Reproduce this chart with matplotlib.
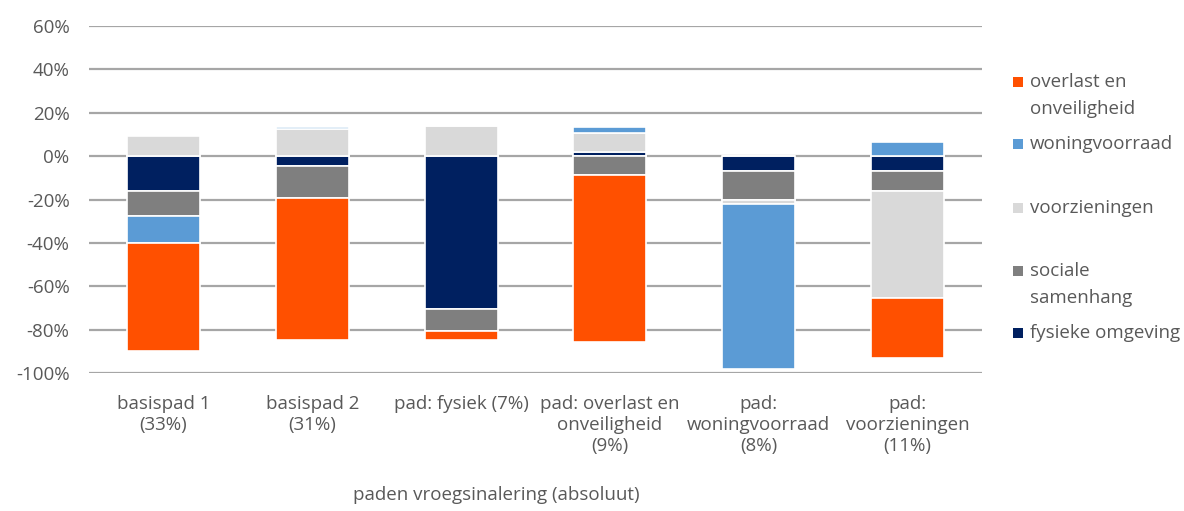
import matplotlib
matplotlib.use("Agg")
import matplotlib.pyplot as plt
import numpy as np
from matplotlib.patches import Rectangle
from matplotlib.ticker import FuncFormatter

categories = ["basispad 1\n(33%)", "basispad 2\n(31%)", "pad: fysiek (7%)",
              "pad: overlast en\nonveiligheid\n(9%)", "pad:\nwoningvoorraad\n(8%)",
              "pad:\nvoorzieningen\n(11%)"]

# values in percent (stacking order: first series at the base)
fysieke_omgeving = [-16.0, -4.5, -70.5, 1.8, -7.0, -7.0]
sociale_samenhang = [-11.5, -15.0, -10.0, -8.5, -13.0, -9.0]
voorzieningen = [9.5, 12.3, 14.0, 9.0, -2.0, -49.5]
woningvoorraad = [-12.5, 1.0, 0.0, 2.7, -76.0, 6.5]
overlast_en_onveiligheid = [-50.0, -65.5, -4.5, -77.0, 0.0, -27.5]

series = [
    ("fysieke omgeving", fysieke_omgeving, "#002060"),
    ("sociale\nsamenhang", sociale_samenhang, "#7F7F7F"),
    ("voorzieningen", voorzieningen, "#D9D9D9"),
    ("woningvoorraad", woningvoorraad, "#5B9BD5"),
    ("overlast en\nonveiligheid", overlast_en_onveiligheid, "#FF5000"),
]

plt.rcParams['font.family'] = ['Open Sans', 'DejaVu Sans']
txt = "#595959"
fs = 13.5

fig = plt.figure(figsize=(11.84, 5.11), dpi=100)
ax = fig.add_axes([89/1184, 1-373/511, (982-89)/1184, (373-26)/511])

x = np.arange(len(categories))
pos_base = np.zeros(len(categories))
neg_base = np.zeros(len(categories))
for name, vals, col in series:
    v = np.array(vals, dtype=float)
    base = np.where(v >= 0, pos_base, neg_base)
    ax.bar(x, v, bottom=base, width=0.49, color=col, edgecolor="white",
           linewidth=1.2, zorder=3)
    pos_base = pos_base + np.where(v > 0, v, 0)
    neg_base = neg_base + np.where(v < 0, v, 0)

ax.set_xlim(-0.5, len(categories) - 0.5)
ax.set_ylim(-100, 60)
ax.set_yticks(np.arange(-100, 61, 20))
ax.yaxis.set_major_formatter(FuncFormatter(lambda v, p: f"{int(v)}%"))
ax.grid(axis="y", color="#A6A6A6", linewidth=1.6, zorder=0)
for s in ax.spines.values():
    s.set_visible(False)
ax.set_xticks(x)
ax.set_xticklabels(categories, fontsize=fs, color=txt, linespacing=1.2)
ax.tick_params(axis="x", length=0, pad=16)
ax.tick_params(axis="y", length=0, pad=14, labelsize=fs, labelcolor=txt)

fig.text(496/1184, 1-495/511, "paden vroegsinalering (absoluut)", ha="center",
         va="center", fontsize=fs, color=txt)

# legend (manual, Excel-like spacing)
leg = [
    ("overlast en\nonveiligheid", "#FF5000", 82),
    ("woningvoorraad", "#5B9BD5", 144),
    ("voorzieningen", "#D9D9D9", 208),
    ("sociale\nsamenhang", "#7F7F7F", 271),
    ("fysieke omgeving", "#002060", 333),
]
for label, col, yc in leg:
    fig.patches.append(Rectangle((1013/1184, 1-(yc+5)/511), 10/1184, 10/511,
                                 transform=fig.transFigure, facecolor=col,
                                 edgecolor="none"))
    fig.text(1030/1184, 1-(yc-9)/511, label, ha="left", va="top",
             fontsize=fs, color=txt, linespacing=1.62)

fig.savefig("out.png", dpi=100)
